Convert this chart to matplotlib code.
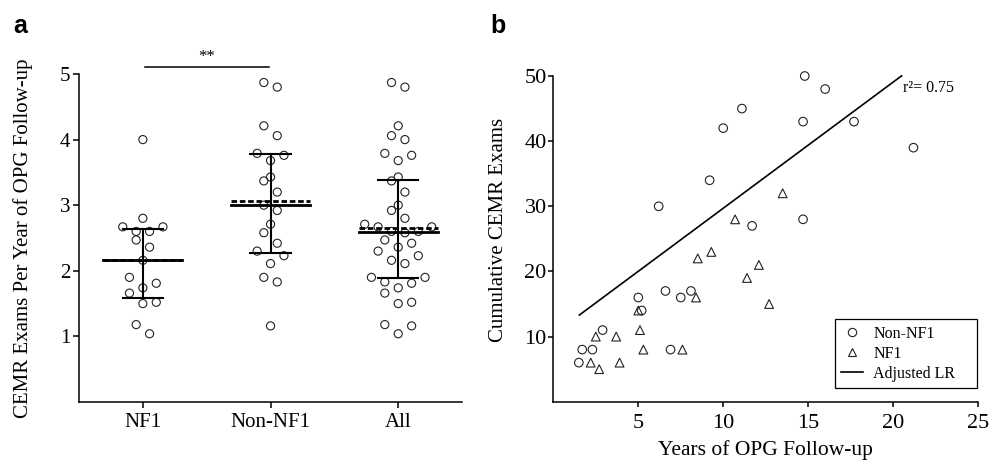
import matplotlib.pyplot as plt
import numpy as np
from matplotlib.lines import Line2D

plt.rcParams["font.family"] = ["Liberation Serif", "DejaVu Serif"]

# panel a: CEMR exams per year of OPG follow-up
groups = ["NF1", "Non-NF1", "All"]
nf1_rate = [4.00, 2.80, 2.67, 2.67, 2.60, 2.60, 2.47, 2.36, 2.16, 1.90,
            1.81, 1.74, 1.66, 1.52, 1.50, 1.18, 1.04]
non_nf1_rate = [4.87, 4.80, 4.21, 4.06, 3.79, 3.76, 3.68, 3.43, 3.37, 3.20,
                3.00, 2.92, 2.71, 2.58, 2.42, 2.30, 2.23, 2.11, 1.90, 1.83, 1.16]

# panel b: cumulative exams vs years of follow-up
non_nf1_years = [14.8, 16.0, 11.1, 10.0, 14.7, 17.7, 21.2, 9.2, 6.2, 11.7, 14.7,
                 6.6, 7.5, 8.1, 5.0, 5.2, 2.9, 1.7, 2.3, 1.5, 6.9]
non_nf1_exams = [50, 48, 45, 42, 43, 43, 39, 34, 30, 27, 28,
                 17, 16, 17, 16, 14, 11, 8, 8, 6, 8]
nf1_years = [13.5, 10.7, 9.3, 8.5, 12.1, 11.4, 12.7, 8.4, 5.0, 5.1, 2.5, 3.7,
             5.3, 7.6, 2.2, 3.9, 2.7]
nf1_exams = [32, 28, 23, 22, 21, 19, 15, 16, 14, 11, 10, 10, 8, 8, 6, 6, 5]
lr_slope = 1.936
lr_intercept = 10.34
lr_x = [1.53, 20.5]
r_squared = 0.75


def row_offsets(values, row_height=0.195, spacing=0.105):
    """group close values into rows and spread each row side by side (Prism-like)"""
    order = np.argsort(values, kind="stable")
    offs = np.zeros(len(values))
    rows = []
    for i in order:
        if rows and values[i] - values[rows[-1][0]] < row_height:
            rows[-1].append(i)
        else:
            rows.append([i])
    for row in rows:
        n = len(row)
        slots = np.arange(n) - (n - 1) / 2
        # fill from the centre outwards, right side first
        slots = sorted(slots, key=lambda s: (abs(s), -s))
        for idx, s in zip(row, slots):
            offs[idx] = s * spacing
    return offs


fig = plt.figure(figsize=(9.89, 4.61), dpi=100)
ax_a = fig.add_axes([0.0799, 0.128, 0.3873, 0.7115])
ax_b = fig.add_axes([0.5595, 0.1286, 0.4294, 0.7065])

for ax in (ax_a, ax_b):
    ax.spines["top"].set_visible(False)
    ax.spines["right"].set_visible(False)
    ax.spines["left"].set_linewidth(1.1)
    ax.spines["bottom"].set_linewidth(1.1)

ax_a.set_xlim(0.5, 3.5)
ax_a.set_ylim(0, 5)

data_a = [np.array(nf1_rate), np.array(non_nf1_rate),
          np.array(nf1_rate + non_nf1_rate)]
for i, vals in enumerate(data_a):
    xc = i + 1
    xs = xc + row_offsets(vals)
    ax_a.scatter(xs, vals, s=34, facecolors="none", edgecolors="#222222",
                 linewidths=0.8, zorder=3)
    q1, med, q3 = np.percentile(vals, [25, 50, 75], method="weibull")
    mean = vals.mean()
    ax_a.plot([xc, xc], [q1, q3], color="black", lw=1.5, zorder=4)
    ax_a.plot([xc - 0.157, xc + 0.157], [q1, q1], color="black", lw=1.5, zorder=4)
    ax_a.plot([xc - 0.157, xc + 0.157], [q3, q3], color="black", lw=1.5, zorder=4)
    ax_a.plot([xc - 0.31, xc + 0.31], [med, med], color="black", lw=2.0, zorder=4)
    ax_a.plot([xc - 0.31, xc + 0.31], [mean, mean], color="black", lw=2.0,
              linestyle=(0, (2, 1)), zorder=4)

ax_a.plot([1.02, 1.99], [5.1, 5.1], color="black", lw=1.1, clip_on=False)
ax_a.text(1.5, 5.13, "**", ha="center", va="bottom", fontsize=12)

ax_a.set_xticks([1, 2, 3])
ax_a.set_xticklabels(groups)
ax_a.set_yticks([1, 2, 3, 4, 5])
ax_a.tick_params(axis="both", labelsize=15, length=4.3, width=1.1, direction="out")
ax_a.tick_params(axis="y", pad=2)
ax_a.set_ylabel("CEMR Exams Per Year of OPG Follow-up", fontsize=15)
ax_a.yaxis.set_label_coords(-0.12, 0.5)

# panel b
ax_b.set_xlim(0, 25)
ax_b.set_ylim(0, 50)
ax_b.scatter(non_nf1_years, non_nf1_exams, s=38, marker="o", facecolors="none",
             edgecolors="#222222", linewidths=0.8, zorder=3, clip_on=False)
ax_b.scatter(nf1_years, nf1_exams, s=40, marker="^", facecolors="none",
             edgecolors="#222222", linewidths=0.8, zorder=3, clip_on=False)
lx = np.array(lr_x)
ax_b.plot(lx, lr_slope * lx + lr_intercept, color="black", lw=1.2, clip_on=False)
ax_b.text(20.6, 48.1, f"r\u00b2= {r_squared:.2f}", va="center", ha="left", fontsize=11.5)

ax_b.set_xticks([5, 10, 15, 20, 25])
ax_b.set_yticks([10, 20, 30, 40, 50])
ax_b.tick_params(axis="both", labelsize=16, length=3.8, width=1.1, direction="out")
ax_b.tick_params(axis="y", pad=1)
ax_b.tick_params(axis="x", pad=5)
ax_b.set_ylabel("Cumulative CEMR Exams", fontsize=15)
ax_b.yaxis.set_label_coords(-0.107, 0.527)
ax_b.set_xlabel("Years of OPG Follow-up", fontsize=15.5)
ax_b.xaxis.set_label_coords(0.5, -0.118)

handles = [
    Line2D([], [], marker="o", ls="none", mfc="none", mec="#222222", ms=6, mew=0.8),
    Line2D([], [], marker="^", ls="none", mfc="none", mec="#222222", ms=6, mew=0.8),
    Line2D([], [], color="black", lw=1.2),
]
leg = ax_b.legend(handles, ["Non-NF1", "NF1", "Adjusted LR"], loc="lower left",
                  bbox_to_anchor=(0.663, 0.042, 0.334, 0.2), mode="expand",
                  fontsize=11.5, frameon=True,
                  fancybox=False, edgecolor="black", framealpha=1,
                  handlelength=1.35, handletextpad=0.65, labelspacing=0.25,
                  borderpad=0.4, borderaxespad=0)
leg.get_frame().set_linewidth(0.9)

fig.text(0.013, 0.928, "a", fontsize=18, fontweight="bold",
         family="Liberation Sans", va="baseline")
fig.text(0.4955, 0.928, "b", fontsize=18, fontweight="bold",
         family="Liberation Sans", va="baseline")

fig.savefig("out.png", dpi=100)
